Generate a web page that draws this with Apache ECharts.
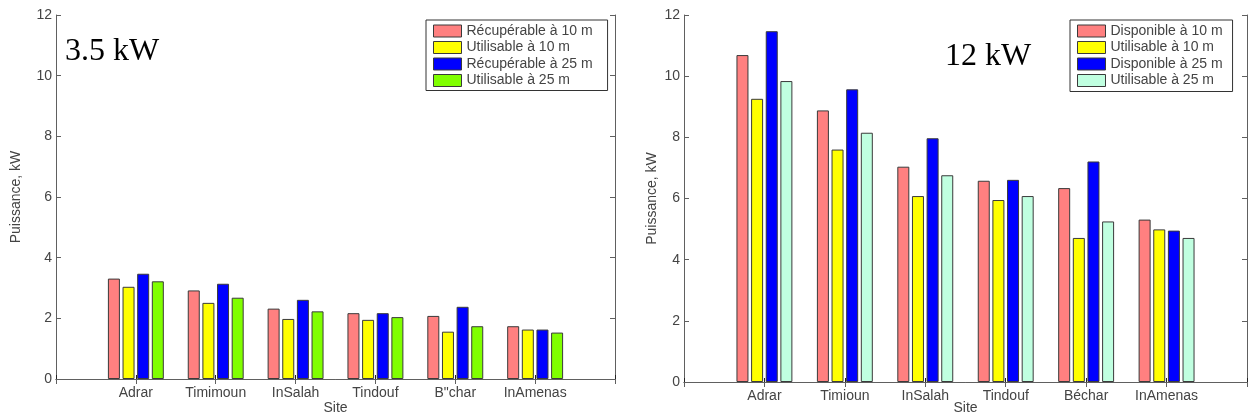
<!DOCTYPE html>
<html>
<head>
<meta charset="utf-8">
<script src="https://cdn.jsdelivr.net/npm/echarts@6/dist/echarts.min.js"></script>
<style>
html,body{margin:0;padding:0;background:#fff;}
#chart{width:1250px;height:417px;}
</style>
</head>
<body>
<div id="chart"></div>
<script>
// ---- Data ----
var sitesLeft = ['Adrar', 'Timimoun', 'InSalah', 'Tindouf', 'B"char', 'InAmenas'];
var sitesRight = ['Adrar', 'Timioun', 'InSalah', 'Tindouf', 'Béchar', 'InAmenas'];
var yTicks = [0, 2, 4, 6, 8, 10, 12];

var leftNames = ['Récupérable à 10 m', 'Utilisable à 10 m', 'Récupérable à 25 m', 'Utilisable à 25 m'];
var leftRecup10 = [3.31, 2.92, 2.32, 2.17, 2.08, 1.74];
var leftUtil10  = [3.04, 2.51, 1.98, 1.95, 1.56, 1.63];
var leftRecup25 = [3.47, 3.14, 2.61, 2.17, 2.38, 1.63];
var leftUtil25  = [3.22, 2.68, 2.23, 2.04, 1.74, 1.53];

var rightNames = ['Disponible à 10 m', 'Utilisable à 10 m', 'Disponible à 25 m', 'Utilisable à 25 m'];
var rightDispo10 = [10.69, 8.88, 7.04, 6.58, 6.34, 5.31];
var rightUtil10  = [9.26, 7.60, 6.08, 5.95, 4.71, 4.99];
var rightDispo25 = [11.47, 9.57, 7.97, 6.61, 7.21, 4.95];
var rightUtil25  = [9.84, 8.15, 6.76, 6.08, 5.25, 4.71];

var leftTitle = '3.5 kW';
var rightTitle = '12 kW';

// ---- Styles ----
var colorsLeft = ['#FF8080', '#FFFF00', '#0000FF', '#80FF00'];
var colorsRight = ['#FF8080', '#FFFF00', '#0000FF', '#C0FFE0'];
var axisColor = '#606060';
var textColor = '#444444';
var barBorder = '#3a3a3a';
var font = 'Liberation Sans, Arial, sans-serif';

function pad(arr) { return [null].concat(arr).concat([null]); }
function padCat(arr) { return [''].concat(arr).concat(['']); }

var grids = [
  {left: 56, top: 15, width: 559, height: 364, containLabel: false, outerBoundsMode: 'none'},
  {left: 684, top: 15, width: 563, height: 367, containLabel: false, outerBoundsMode: 'none'}
];
var siteGaps = [22, 19];

var xAxes = [], yAxes = [], series = [];
var cats = [sitesLeft, sitesRight];
[0, 1].forEach(function (g) {
  xAxes.push({
    type: 'category', gridIndex: g, data: padCat(cats[g]), boundaryGap: false,
    position: 'bottom',
    name: 'Site', nameLocation: 'middle', nameGap: siteGaps[g], nameMoveOverlap: false,
    nameTextStyle: {color: textColor, fontSize: 14, fontFamily: font},
    axisLine: {show: true, lineStyle: {color: axisColor, width: 1}},
    axisTick: {show: true, inside: true, length: 4, lineStyle: {color: '#222'}},
    axisLabel: {color: textColor, fontSize: 14, fontFamily: font, margin: 7, interval: 0},
    splitLine: {show: false}
  });
  xAxes.push({
    type: 'category', gridIndex: g, data: padCat(cats[g]), boundaryGap: false,
    position: 'top',
    axisLine: {show: true, lineStyle: {color: axisColor, width: 1}},
    axisTick: {show: true, inside: true, length: 5, lineStyle: {color: axisColor}},
    axisLabel: {show: false},
    splitLine: {show: false}
  });
  yAxes.push({
    type: 'value', gridIndex: g, min: yTicks[0], max: yTicks[yTicks.length - 1], interval: 2,
    position: 'left',
    name: 'Puissance, kW', nameLocation: 'middle', nameGap: g === 0 ? 33 : 25, nameMoveOverlap: false,
    nameTextStyle: {color: textColor, fontSize: 14, fontFamily: font},
    axisLine: {show: true, lineStyle: {color: axisColor, width: 1}},
    axisTick: {show: true, inside: true, length: 5, lineStyle: {color: axisColor}},
    axisLabel: {color: textColor, fontSize: 14, fontFamily: font, margin: 4},
    splitLine: {show: false}
  });
  yAxes.push({
    type: 'value', gridIndex: g, min: yTicks[0], max: yTicks[yTicks.length - 1], interval: 2,
    position: 'right',
    axisLine: {show: true, lineStyle: {color: axisColor, width: 1}},
    axisTick: {show: true, inside: true, length: 5, lineStyle: {color: axisColor}},
    axisLabel: {show: false},
    splitLine: {show: false}
  });
});

var leftData = [leftRecup10, leftUtil10, leftRecup25, leftUtil25];
var rightData = [rightDispo10, rightUtil10, rightDispo25, rightUtil25];

function addSeries(names, data, colors, xi, yi) {
  names.forEach(function (n, i) {
    series.push({
      type: 'bar', name: n, xAxisIndex: xi, yAxisIndex: yi,
      data: pad(data[i]),
      barWidth: 12, barGap: '22%',
      itemStyle: {color: colors[i], borderColor: barBorder, borderWidth: 1},
      emphasis: {disabled: true},
      animation: false
    });
  });
}
addSeries(leftNames, leftData, colorsLeft, 0, 0);
addSeries(rightNames, rightData, colorsRight, 2, 2);

function legendData(names, colors) {
  return names.map(function (n, i) {
    return {name: n, itemStyle: {color: colors[i], borderColor: barBorder, borderWidth: 1}};
  });
}

var legendCommon = {
  orient: 'vertical', icon: 'rect', itemWidth: 28, itemHeight: 12, itemGap: 2.5,
  borderColor: '#333', borderWidth: 1, backgroundColor: '#fff',
  textStyle: {color: textColor, fontSize: 14, fontFamily: font, lineHeight: 14},
  selectedMode: false
};

var option = {
  backgroundColor: '#fff',
  animation: false,
  grid: grids,
  xAxis: xAxes,
  yAxis: yAxes,
  legend: [
    Object.assign({}, legendCommon, {data: legendData(leftNames, colorsLeft), left: 426, top: 20, padding: [4, 15, 3, 7]}),
    Object.assign({}, legendCommon, {data: legendData(rightNames, colorsRight), left: 1070, top: 20, padding: [4, 10, 4, 7]})
  ],
  graphic: [
    {type: 'text', left: 65, top: 36, style: {text: leftTitle, font: '32px "Liberation Serif", "Times New Roman", serif', fill: '#000'}},
    {type: 'text', left: 945, top: 41, style: {text: rightTitle, font: '32px "Liberation Serif", "Times New Roman", serif', fill: '#000'}}
  ],
  series: series
};

var chart = echarts.init(document.getElementById('chart'), null, {renderer: 'canvas'});
chart.setOption(option);
</script>
</body>
</html>
